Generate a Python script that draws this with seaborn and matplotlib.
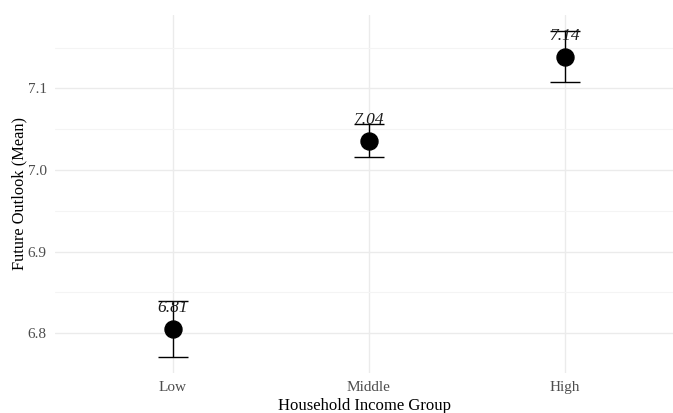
import numpy as np
import pandas as pd
import seaborn as sns
import matplotlib
matplotlib.use("Agg")
import matplotlib.pyplot as plt
from matplotlib.ticker import MultipleLocator

# Mean future outlook by household income group, with standard errors
groups = ["Low", "Middle", "High"]
means = [6.805, 7.036, 7.139]
errors = [0.034, 0.020, 0.031]
labels = ["6.81", "7.04", "7.14"]

df = pd.DataFrame({"group": groups, "mean": means, "se": errors, "label": labels})

sns.set_theme(style="whitegrid")
plt.rcParams["font.family"] = ["Liberation Serif", "DejaVu Serif"]

W, H, DPI = 673, 413, 100
fig = plt.figure(figsize=(W / DPI, H / DPI), dpi=DPI)
# panel placement in pixels
left, right, top, bottom = 55, 673, 15, 373
ax = fig.add_axes([left / W, 1 - bottom / H, (right - left) / W, (bottom - top) / H])

sns.scatterplot(data=df, x="group", y="mean", ax=ax, s=150, color="black",
                edgecolor="black", zorder=4, legend=False)
ax.errorbar(x=np.arange(len(groups)), y=df["mean"], yerr=df["se"], fmt="none",
            ecolor="black", elinewidth=1.0, capsize=11, capthick=1.0, zorder=3)

for i, row in df.iterrows():
    ax.text(i, row["mean"] + 0.028, row["label"], ha="center", va="center_baseline",
            fontsize=12.5, style="italic", color="#1a1a1a", zorder=5)

lo = min(m - e for m, e in zip(means, errors))
hi = max(m + e for m, e in zip(means, errors))
pad = 0.05 * (hi - lo)
ax.set_ylim(lo - pad, hi + pad)
ax.set_xlim(-0.6, 2 + (right - 565) / ((565 - 173) / 2))

ax.yaxis.set_major_locator(MultipleLocator(0.1))
ax.yaxis.set_minor_locator(MultipleLocator(0.05))
ax.set_yticks([6.8, 6.9, 7.0, 7.1])
ax.set_yticklabels(["6.8", "6.9", "7.0", "7.1"])

ax.set_facecolor("white")
for s in ax.spines.values():
    s.set_visible(False)
ax.grid(which="major", color="#ebebeb", linewidth=1.0)
ax.grid(which="minor", axis="y", color="#f4f4f4", linewidth=0.8)
ax.tick_params(which="both", length=0, labelsize=11, labelcolor="#4d4d4d", pad=6)

ax.set_xlabel("Household Income Group", fontsize=12, color="black", labelpad=3)
ax.set_ylabel("Future Outlook (Mean)", fontsize=11.8, color="black", labelpad=0.5)

fig.savefig("out.png", dpi=DPI, facecolor="white")
